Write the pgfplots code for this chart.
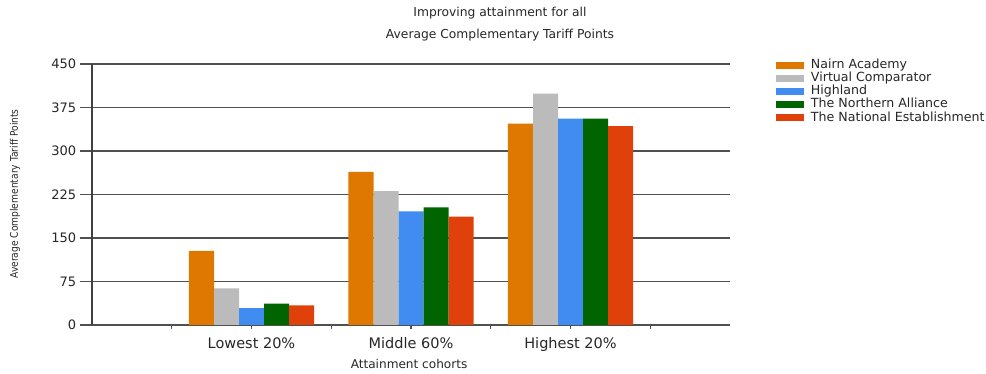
\documentclass[border=0pt]{standalone}
\usepackage{fontspec}
\setmainfont{DejaVu Sans}
\usepackage{pgfplots}
\pgfplotsset{compat=1.18}

\definecolor{nairn}{HTML}{DE7800}
\definecolor{virtual}{HTML}{BBBBBB}
\definecolor{highland}{HTML}{418CF0}
\definecolor{northern}{HTML}{006400}
\definecolor{national}{HTML}{E0400A}
\definecolor{gridgray}{HTML}{505050}
\definecolor{txt}{HTML}{262626}

\pgfplotsset{
  swatch/.style={legend image code/.code={%
    \fill[##1] (0pt,-3.5pt) rectangle (28pt,3.5pt);
    \path (35pt,0pt);}},
  frame/.style={
    at={(92pt,49pt)}, anchor=south west,
    scale only axis, width=638pt, height=261pt,
    xmin=0, xmax=4, ymin=0, ymax=450,
    tick align=outside,
    ytick={0,75,...,450},
  },
}

\begin{document}
\begin{tikzpicture}[x=1pt,y=1pt]
\useasboundingbox (0,0) rectangle (986,374);
% main axis: bars, grid, category ticks and all labels
\begin{axis}[
  frame,
  clip=false,
  ybar=0pt, bar width=25pt,
  axis x line*=bottom, axis y line*=left,
  axis line style={-},
  x axis line style={draw=gridgray, line width=1.2pt},
  y axis line style={draw=gridgray!80!black, line width=1.2pt},
  ytick style={draw=none},
  xtick={0.5,1.5,2.5,3.5}, xticklabels={},
  xtick style={draw=gridgray, line width=1.2pt},
  extra x ticks={1,2,3},
  extra x tick labels={Lowest 20\%, Middle 60\%, Highest 20\%},
  extra x tick style={tick style={draw=none}, grid=none,
    xticklabel style={font=\fontsize{14.5}{17}\selectfont, text=txt, yshift=-4.5pt}},
  ymajorgrids,
  major grid style={draw=gridgray, line width=1.2pt},
  /pgf/number format/assume math mode=true,
  yticklabel style={font=\fontsize{13}{15}\selectfont, text=txt, xshift=-8pt},
  xlabel={Attainment cohorts},
  xlabel style={at={(axis description cs:0.497,-0.151)}, anchor=center,
    font=\fontsize{12.1}{14}\selectfont, text=txt},
  ylabel={\scalebox{0.87}[1]{Average Complementary Tariff Points}},
  ylabel style={at={(axis description cs:-0.1207,0.502)}, anchor=center,
    font=\fontsize{10.5}{12}\selectfont, text=txt},
  legend style={at={(rel axis cs:1.0721,1.019)}, anchor=north west,
    draw=none, fill=none, inner sep=0pt, outer sep=0pt, row sep=0pt,
    font=\fontsize{12.6}{13}\selectfont, text=txt,
    nodes={inner sep=0pt, text height=9.6pt, text depth=3.5pt, anchor=west}},
  legend cell align=left,
]
\addplot[fill=nairn, draw=none, swatch] coordinates {(1,128) (2,264) (3,347)};
\addplot[fill=virtual, draw=none, swatch] coordinates {(1,63) (2,231) (3,399)};
\addplot[fill=highland, draw=none, swatch] coordinates {(1,29) (2,196) (3,356)};
\addplot[fill=northern, draw=none, swatch] coordinates {(1,37) (2,203) (3,356)};
\addplot[fill=national, draw=none, swatch] coordinates {(1,34) (2,187) (3,343)};
\legend{Nairn Academy, Virtual Comparator, Highland, The Northern Alliance, The National Establishment}

\node[font=\fontsize{12.3}{14}\selectfont, text=txt] at (rel axis cs:0.6395,1.1954) {Improving attainment for all};
\node[font=\fontsize{12.3}{14}\selectfont, text=txt] at (rel axis cs:0.6395,1.110) {Average Complementary Tariff Points};
\end{axis}
% overlay axis: the longer value ticks on the left
\begin{axis}[
  frame,
  hide x axis,
  axis y line*=left,
  axis line style={-},
  y axis line style={draw=gridgray!80!black, line width=1.2pt},
  major tick length=12pt,
  ytick style={draw=gridgray, line width=1.2pt},
  yticklabels={},
]
\end{axis}
\end{tikzpicture}
\end{document}
